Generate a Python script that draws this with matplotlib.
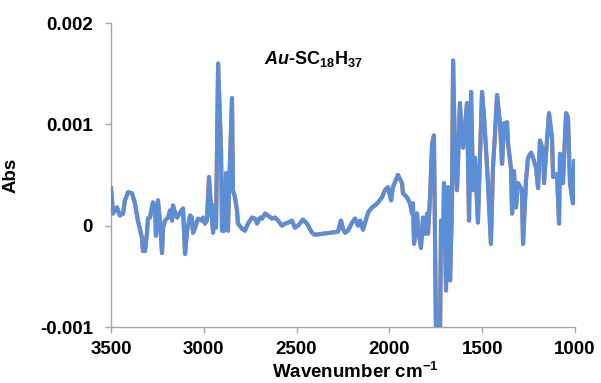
import matplotlib
matplotlib.use("Agg")
import matplotlib.pyplot as plt

plt.rcParams['font.family'] = ['Liberation Sans', 'DejaVu Sans']
plt.rcParams['mathtext.fontset'] = 'custom'
plt.rcParams['mathtext.rm'] = 'Liberation Sans:bold'
plt.rcParams['mathtext.it'] = 'Liberation Sans:bold:italic'
plt.rcParams['mathtext.bf'] = 'Liberation Sans:bold'

wavenumber = [
    3500, 3489, 3468, 3452, 3435, 3425, 3408, 3387, 3371, 3355, 3333, 3328, 3317, 3306, 3301,
    3290, 3279, 3274, 3263, 3258, 3247, 3236, 3225, 3220, 3209, 3193, 3182, 3171, 3166, 3155,
    3144, 3128, 3112, 3101, 3090, 3074, 3064, 3058, 3047, 3031, 3010, 3004, 2994, 2983, 2972,
    2961, 2950, 2945, 2934, 2923, 2907, 2902, 2891, 2880, 2870, 2864, 2848, 2843, 2832, 2821,
    2816, 2794, 2778, 2762, 2740, 2724, 2713, 2697, 2686, 2670, 2654, 2633, 2616, 2600, 2579,
    2562, 2546, 2525, 2509, 2492, 2466, 2444, 2417, 2401, 2277, 2261, 2250, 2239, 2223, 2201,
    2185, 2169, 2158, 2142, 2115, 2094, 2078, 2061, 2040, 2024, 2008, 1991, 1981, 1954, 1932,
    1927, 1905, 1889, 1878, 1873, 1867, 1851, 1846, 1830, 1819, 1808, 1797, 1792, 1781, 1770,
    1760, 1749, 1727, 1722, 1711, 1706, 1695, 1684, 1673, 1663, 1657, 1647, 1636, 1630, 1620,
    1609, 1603, 1582, 1571, 1560, 1549, 1539, 1523, 1501, 1490, 1480, 1469, 1453, 1442, 1431,
    1420, 1404, 1393, 1382, 1366, 1361, 1345, 1339, 1329, 1318, 1307, 1286, 1280, 1264, 1253,
    1237, 1226, 1210, 1199, 1189, 1172, 1167, 1151, 1140, 1124, 1118, 1097, 1086, 1081, 1070,
    1065, 1048, 1038, 1027, 1011, 1005, 1000,
]

absorbance = [
    0.00037, 0.00012, 0.00018, 0.00010, 0.00012, 0.00025, 0.00033, 0.00032, 0.00022, 0.00005,
    -0.00012, -0.00025, -0.00025, -0.00007, 0.00007, 0.00008, 0.00018, 0.00023, 0.00018, -0.00010,
    0.00025, 0.00003, -0.00027, -0.00003, 0.00005, 0.00008, 0.00015, 0.00005, 0.00020, 0.00013,
    0.00008, 0.00013, 0.00017, -0.00028, -0.00005, 0.00010, 0.00008, -0.00007, -0.00002, 0.00007,
    0.00005, 0.00008, 0.00002, 0.00005, 0.00048, 0.00018, -0.00007, 0.00020, -0.00002, 0.00160,
    0.00074, -0.00005, -0.00005, 0.00052, -0.00005, 0.00035, 0.00126, 0.00035, 0.00028, 0.00015,
    0.00002, -0.00003, -0.00005, 0.00002, 0.00008, 0.00007, 0.00002, 0.00008, 0.00007, 0.00012,
    0.00010, 0.00007, 0.00008, 0.00005, 0.00000, 0.00002, 0.00003, 0.00005, -0.00002, 0.00000,
    0.00006, 0.00002, -0.00007, -0.00009, -0.00006, 0.00005, -0.00003, -0.00007, -0.00005, 0.00003,
    0.00007, 0.00000, 0.00005, -0.00004, 0.00013, 0.00018, 0.00020, 0.00023, 0.00028, 0.00035,
    0.00038, 0.00025, 0.00038, 0.00050, 0.00042, 0.00032, 0.00028, 0.00022, 0.00012, 0.00022,
    -0.00018, 0.00012, -0.00002, -0.00022, 0.00008, -0.00008, 0.00012, -0.00008, 0.00028, 0.00081,
    0.00089, -0.00105, -0.00105, 0.00005, -0.00018, 0.00042, -0.00064, 0.00038, -0.00054, 0.00018,
    0.00163, 0.00074, 0.00035, 0.00064, 0.00121, 0.00084, 0.00077, 0.00121, 0.00005, 0.00132,
    0.00035, 0.00067, 0.00003, 0.00132, 0.00107, 0.00077, 0.00042, -0.00018, 0.00057, 0.00091,
    0.00129, 0.00101, 0.00061, 0.00101, 0.00102, 0.00081, 0.00057, 0.00012, 0.00054, 0.00018,
    0.00042, 0.00035, -0.00018, 0.00045, 0.00067, 0.00072, 0.00067, 0.00057, 0.00037, 0.00084,
    0.00074, 0.00042, 0.00084, 0.00111, 0.00087, 0.00048, 0.00051, 0.00002, 0.00071, 0.00064,
    0.00042, 0.00111, 0.00107, 0.00042, 0.00022, 0.00064, 0.00045,
]

x_ticks = [3500, 3000, 2500, 2000, 1500, 1000]
x_ticklabels = ['3500', '3000', '2500', '2000', '1500', '1000']
y_ticks = [-0.001, 0, 0.001, 0.002]
y_ticklabels = ['-0.001', '0', '0.001', '0.002']

fig = plt.figure(figsize=(6.01, 3.83), dpi=100)
ax = fig.add_axes([111 / 601, 1 - 327 / 383, 464 / 601, 304 / 383])

ax.plot(wavenumber, absorbance, color='#ED7D31', lw=3.0, solid_joinstyle='round', zorder=2)
ax.plot(wavenumber, absorbance, color='#5A8ED6', lw=2.9, solid_joinstyle='round', zorder=3)

ax.set_xlim(3500, 1000)
ax.set_ylim(-0.001, 0.002)
ax.set_xticks(x_ticks)
ax.set_xticklabels(x_ticklabels)
ax.set_yticks(y_ticks)
ax.set_yticklabels(y_ticklabels)

for s in ['top', 'right']:
    ax.spines[s].set_visible(False)
for s in ['left', 'bottom']:
    ax.spines[s].set_color('#A6A6A6')
    ax.spines[s].set_linewidth(1.0)

ax.tick_params(axis='both', direction='out', length=4, width=1.0, color='#A6A6A6',
               labelsize=13.5, labelcolor='black')
ax.tick_params(axis='y', pad=9)
ax.tick_params(axis='x', pad=6)
for lbl in ax.get_xticklabels() + ax.get_yticklabels():
    lbl.set_fontweight('bold')

ax.set_ylabel('Abs', fontsize=13.5, fontweight='bold')
ax.yaxis.set_label_coords(-(111 - 20) / 464, 0.5)
ax.set_xlabel('Wavenumber cm$^{-1}$', fontsize=13.5, fontweight='bold')
ax.xaxis.set_label_coords((355 - 111) / 464, -(372 - 327) / 304)
ax.xaxis.label.set_va('center')

ax.text((313 - 111) / 464, (327 - 59) / 304, r'$Au$-SC$_{18}$H$_{37}$', transform=ax.transAxes,
        ha='center', va='center', fontsize=13, fontweight='bold')

fig.savefig('out.png', dpi=100)
